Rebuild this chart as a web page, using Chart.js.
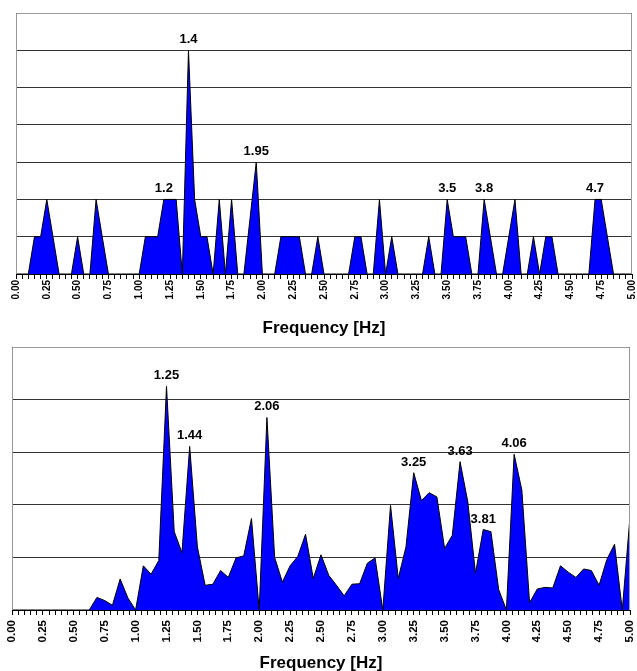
<!DOCTYPE html>
<html>
<head>
<meta charset="utf-8">
<script src="https://cdn.jsdelivr.net/npm/chart.js@4.4.1/dist/chart.umd.min.js"></script>
<style>
  body { margin: 0; background: #fff; overflow: hidden; }
  .box { position: absolute; left: 0; width: 637px; }
  #top { top: 0; height: 340px; }
  #bottom { top: 330px; height: 345px; }
</style>
</head>
<body>
<div class="box" id="top"><canvas id="chart1"></canvas></div>
<div class="box" id="bottom"><canvas id="chart2"></canvas></div>
<script>
// top spectrum, one value every 0.05 Hz
const step1 = 0.05;
const counts1 = [
  0, 0, 0, 1, 1, 2, 1, 0, 0, 0,
  1, 0, 0, 2, 1, 0, 0, 0, 0, 0,
  0, 1, 1, 1, 2, 2, 2, 0, 6, 2,
  1, 1, 0, 2, 0, 2, 0, 0, 1.5, 3,
  0, 0, 0, 1, 1, 1, 1, 0, 0, 1,
  0, 0, 0, 0, 0, 1, 1, 0, 0, 2,
  0, 1, 0, 0, 0, 0, 0, 1, 0, 0,
  2, 1, 1, 1, 0, 0, 2, 1, 0, 0,
  1, 2, 0, 0, 1, 0, 1, 1, 0, 0,
  0, 0, 0, 0, 2, 2, 1, 0, 0, 0, 0
];
const peakFreq1 = [1.2, 1.4, 1.95, 3.5, 3.8, 4.7];
const peakText1 = ['1.2', '1.4', '1.95', '3.5', '3.8', '4.7'];

// bottom spectrum, one value every 1/16 Hz
const step2 = 0.0625;
const amp2 = [
  0, 0, 0, 0, 0, 0, 0, 0, 0, 0,
  0, 0.24, 0.18, 0.09, 0.59, 0.23, 0, 0.84, 0.68, 0.94,
  4.25, 1.49, 1.09, 3.11, 1.20, 0.47, 0.49, 0.75, 0.62, 0.99,
  1.03, 1.74, 0, 3.66, 1.00, 0.53, 0.84, 1.02, 1.44, 0.60,
  1.05, 0.66, 0.47, 0.27, 0.49, 0.50, 0.89, 0.99, 0, 1.99,
  0.60, 1.20, 2.61, 2.08, 2.23, 2.15, 1.17, 1.42, 2.82, 2.06,
  0.70, 1.53, 1.49, 0.39, 0, 2.96, 2.28, 0.14, 0.40, 0.43,
  0.42, 0.84, 0.72, 0.62, 0.78, 0.75, 0.47, 0.96, 1.25, 0,
  1.77
];
const peakFreq2 = [1.25, 1.4375, 2.0625, 3.25, 3.625, 3.8125, 4.0625];
const peakText2 = ['1.25', '1.44', '2.06', '3.25', '3.63', '3.81', '4.06'];

const FONT = "'Liberation Sans', Arial, sans-serif";

// grey frame on left, top and right of plot area
const framePlugin = {
  id: 'frame',
  afterDatasetsDraw(chart) {
    const a = chart.chartArea;
    const ctx = chart.ctx;
    ctx.save();
    ctx.strokeStyle = '#999';
    ctx.lineWidth = 1;
    ctx.beginPath();
    ctx.moveTo(a.left + 0.5, a.bottom);
    ctx.lineTo(a.left + 0.5, a.top + 0.5);
    ctx.lineTo(a.right - 0.5, a.top + 0.5);
    ctx.lineTo(a.right - 0.5, a.bottom);
    ctx.stroke();
    ctx.restore();
  }
};

// text labels above the marked peaks
const peakPlugin = {
  id: 'peaks',
  afterDatasetsDraw(chart, args, opts) {
    const pts = chart.data.datasets[0].data;
    const xs = chart.scales.x, ys = chart.scales.y;
    const ctx = chart.ctx;
    ctx.save();
    ctx.font = 'bold 13px ' + FONT;
    ctx.fillStyle = '#000';
    ctx.textAlign = 'center';
    ctx.textBaseline = 'alphabetic';
    opts.freqs.forEach(function (f, i) {
      let best = pts[0];
      pts.forEach(p => { if (Math.abs(p.x - f) < Math.abs(best.x - f)) best = p; });
      ctx.fillText(opts.texts[i], xs.getPixelForValue(best.x), ys.getPixelForValue(best.y) - 7);
    });
    ctx.restore();
  }
};

function makeChart(id, values, step, yMax, freqs, texts, cfg) {
  const pts = values.map((v, i) => ({ x: i * step, y: v }));
  return new Chart(document.getElementById(id), {
    type: 'line',
    data: {
      datasets: [{
        data: pts,
        fill: 'origin',
        backgroundColor: '#0000ff',
        borderColor: '#000',
        borderWidth: 1,
        pointRadius: 0,
        tension: 0
      }]
    },
    options: {
      responsive: true,
      maintainAspectRatio: false,
      animation: false,
      layout: { padding: cfg.pad },
      plugins: {
        legend: { display: false },
        tooltip: { enabled: false },
        peaks: { freqs: freqs, texts: texts }
      },
      scales: {
        x: {
          type: 'linear',
          min: 0,
          max: 5,
          afterFit: s => {
            s.height = cfg.axisHeight;
            s.paddingLeft = 0;
            s.paddingRight = 0;
          },
          ticks: {
            stepSize: 0.05,
            autoSkip: false,
            minRotation: 90,
            maxRotation: 90,
            padding: cfg.tickPad,
            color: '#000',
            font: { family: FONT, size: cfg.tickSize, weight: 'bold' },
            callback: v => (Math.round(v * 100) % 25 === 0) ? v.toFixed(2) : ''
          },
          grid: { drawOnChartArea: false, drawTicks: true, tickLength: 5, color: '#000' },
          border: { display: true, color: '#000' },
          title: {
            display: true,
            text: 'Frequency [Hz]',
            color: '#000',
            font: { family: FONT, size: 17, weight: 'bold', lineHeight: 1 },
            padding: { top: 0, bottom: cfg.titlePad }
          }
        },
        y: {
          min: 0,
          max: yMax,
          afterFit: s => { s.width = 0; },
          ticks: { display: false, stepSize: 1 },
          grid: { color: '#333', drawTicks: false },
          border: { display: false }
        }
      }
    },
    plugins: [framePlugin, peakPlugin]
  });
}

makeChart('chart1', counts1, step1, 7, peakFreq1, peakText1,
  { pad: { left: 16, right: 5, top: 13, bottom: 0 }, axisHeight: 66, tickSize: 10, tickPad: 1, titlePad: 3 });
makeChart('chart2', amp2, step2, 5, peakFreq2, peakText2,
  { pad: { left: 12, right: 7, top: 17, bottom: 0 }, axisHeight: 65, tickSize: 11.5, tickPad: 5, titlePad: 3 });
</script>
</body>
</html>
